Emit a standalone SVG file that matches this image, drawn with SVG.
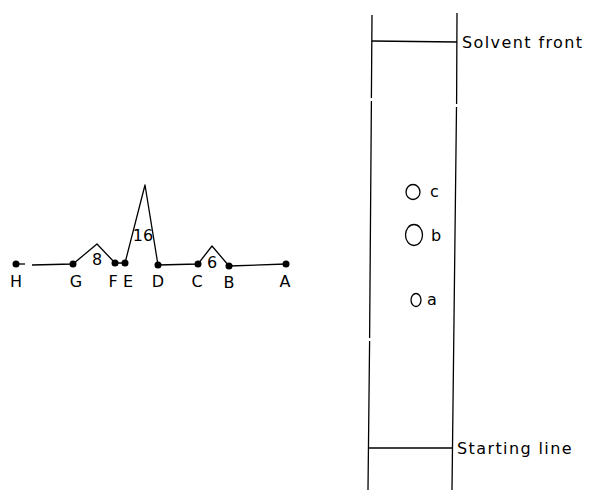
<svg xmlns="http://www.w3.org/2000/svg" width="589" height="492" viewBox="0 0 589 492">
<style>
.ln{fill:none;stroke:#000;stroke-width:1.3;stroke-linejoin:round}
.dot{fill:#000}
.t{font-family:"DejaVu Sans","Liberation Sans",sans-serif;font-size:16px;letter-spacing:1.4px;fill:#000}
.s{font-family:"DejaVu Sans","Liberation Sans",sans-serif;font-size:16px;fill:#000}
.lb{font-family:"DejaVu Sans","Liberation Sans",sans-serif;font-size:16px;fill:#000;text-anchor:middle}
</style>
<rect width="589" height="492" fill="#fff"/>
<g id="chromatogram">
<g id="connectors">
<path class="ln" d="M16,264 L25,264"/>
<path class="ln" d="M32,265 L73,264 L97,244 L115,263 L125,263 L145,185 L158,265 L198,264 L212,246 L229,266 L286,264"/>
</g>
<g id="node-H"><circle class="dot" cx="16" cy="264" r="3.5"/><text class="lb" x="16" y="287">H</text></g>
<g id="node-G"><circle class="dot" cx="73" cy="264" r="3.5"/><text class="lb" x="76" y="287">G</text></g>
<g id="node-F"><circle class="dot" cx="115" cy="263" r="3.5"/><text class="lb" x="113" y="287">F</text></g>
<g id="node-E"><circle class="dot" cx="125" cy="263" r="3.5"/><text class="lb" x="128" y="287">E</text></g>
<g id="node-D"><circle class="dot" cx="158" cy="265" r="3.5"/><text class="lb" x="158" y="287">D</text></g>
<g id="node-C"><circle class="dot" cx="198" cy="264" r="3.5"/><text class="lb" x="197" y="287">C</text></g>
<g id="node-B"><circle class="dot" cx="229" cy="266" r="3.5"/><text class="lb" x="229" y="288">B</text></g>
<g id="node-A"><circle class="dot" cx="286" cy="264" r="3.5"/><text class="lb" x="285" y="287">A</text></g>
<text class="lb" x="97" y="265">8</text>
<text class="lb" x="143" y="241">16</text>
<text class="lb" x="212" y="268">6</text>
</g>
<g id="plate">
<path class="ln" d="M372,15 L371.4,98 M371.4,101 L369.6,338 M369.6,341 L368,490"/>
<path class="ln" d="M457,13 L456.6,104 M456.5,107 L452,490"/>
<path class="ln" d="M372,41 L457,42"/>
<path class="ln" d="M369,448 L452,448"/>
<text class="t" x="462" y="48">Solvent front</text>
<text class="t" x="457" y="454">Starting line</text>
<ellipse class="ln" cx="413" cy="192" rx="7" ry="7.5"/>
<text class="s" x="430" y="197">c</text>
<ellipse class="ln" cx="414" cy="235" rx="8.5" ry="10.5"/>
<text class="s" x="431" y="241">b</text>
<ellipse class="ln" cx="416" cy="300" rx="5" ry="6.5"/>
<text class="s" x="427" y="305">a</text>
</g>
</svg>
